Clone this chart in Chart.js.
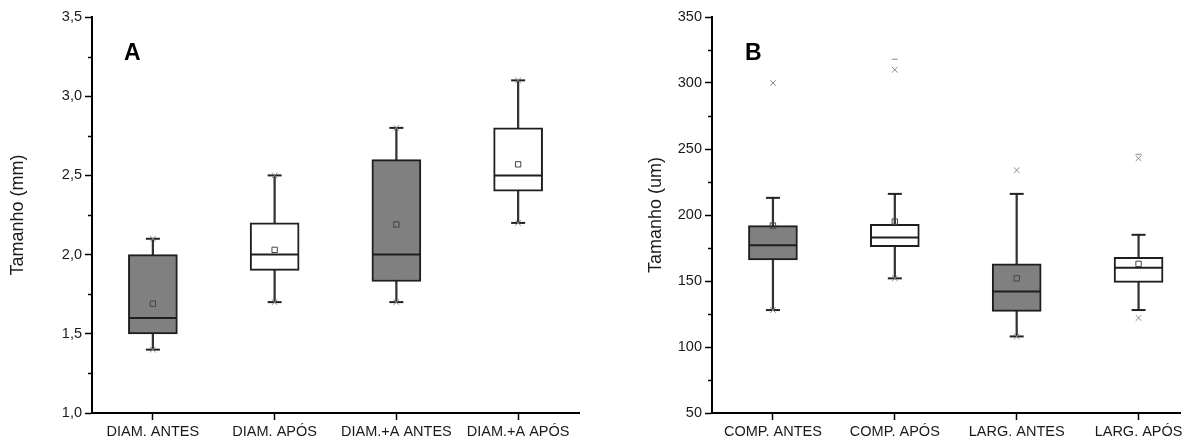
<!DOCTYPE html>
<html>
<head>
<meta charset="utf-8">
<script src="https://cdn.jsdelivr.net/npm/chart.js@4.4.1/dist/chart.umd.min.js"></script>
<style>
  html, body { margin: 0; padding: 0; background: #fff; }
  #wrap { position: relative; width: 1189px; height: 441px; overflow: hidden; }
  #pa { position: absolute; left: 0; top: 0; }
  #pb { position: absolute; left: 595px; top: 0; }
  .lbl { position: absolute; font-family: "Liberation Sans", Arial, sans-serif; font-weight: bold; font-size: 23px; line-height: 23px; color: #000; }
</style>
</head>
<body>
<div id="wrap">
  <canvas id="pa" width="595" height="441"></canvas>
  <canvas id="pb" width="594" height="441"></canvas>
  <div class="lbl" style="left:124px;top:41px;">A</div>
  <div class="lbl" style="left:745px;top:41px;">B</div>
</div>
<script>
// ---------- Panel A data ----------
const A_categories = ['DIAM. ANTES', 'DIAM. APÓS', 'DIAM.+A ANTES', 'DIAM.+A APÓS'];
const A_whiskerLow = [1.4, 1.7, 1.7, 2.2];
const A_q1 = [1.5, 1.9, 1.83, 2.4];
const A_median = [1.6, 2.0, 2.0, 2.5];
const A_q3 = [2.0, 2.2, 2.6, 2.8];
const A_whiskerHigh = [2.1, 2.5, 2.8, 3.1];
const A_mean = [1.69, 2.03, 2.19, 2.57];
const A_crossMarks = [[0, 1.4], [0, 2.1], [1, 1.7], [1, 2.5], [2, 1.7], [2, 2.8], [3, 2.2], [3, 3.1]];
const A_dashMarks = [];
const A_yTicks = [1.0, 1.5, 2.0, 2.5, 3.0, 3.5];
const A_yMinorTicks = [1.25, 1.75, 2.25, 2.75, 3.25];
const A_fill = ['#808080', '#ffffff', '#808080', '#ffffff'];

// ---------- Panel B data ----------
const B_categories = ['COMP. ANTES', 'COMP. APÓS', 'LARG. ANTES', 'LARG. APÓS'];
const B_whiskerLow = [128, 152, 108, 128];
const B_q1 = [166, 176, 127, 149];
const B_median = [177, 183, 142, 160];
const B_q3 = [192, 193, 163, 168];
const B_whiskerHigh = [213, 216, 216, 185];
const B_mean = [192, 195, 152, 163];
const B_crossMarks = [[0, 128], [0, 300], [1, 152], [1, 310], [2, 108], [2, 234], [3, 122], [3, 243]];
const B_dashMarks = [[1, 318], [3, 246]];
const B_yTicks = [50, 100, 150, 200, 250, 300, 350];
const B_yMinorTicks = [75, 125, 175, 225, 275, 325];
const B_fill = ['#808080', '#ffffff', '#808080', '#ffffff'];

const FONT = '"Liberation Sans", Arial, sans-serif';
const INK = '#1a1a1a';

const minorTickPlugin = {
  id: 'minorTicks',
  afterDraw(chart, args, opts) {
    const ys = chart.scales.y;
    const ctx = chart.ctx;
    ctx.save();
    ctx.strokeStyle = '#000';
    ctx.lineWidth = 1.5;
    ctx.beginPath();
    for (const v of opts.values) {
      const py = Math.round(ys.getPixelForValue(v)) + 0.5;
      ctx.moveTo(ys.right - 4, py);
      ctx.lineTo(ys.right, py);
    }
    ctx.stroke();
    ctx.restore();
  }
};

function makeChart(id, cfg) {
  const idx = cfg.categories.map((_, i) => i);
  const toPts = (arr) => arr.map((v, i) => ({ x: i, y: v }));
  const pairs = (arr) => arr.map(p => ({ x: p[0], y: p[1] }));
  const datasets = [
    { // crosses (min/max, outliers)
      type: 'line', order: 1, showLine: false,
      data: pairs(cfg.cross), pointStyle: 'crossRot', pointRadius: 4,
      borderColor: '#8a8a8a', borderWidth: 1, backgroundColor: '#8a8a8a'
    },
    { // dash marks
      type: 'line', order: 1, showLine: false,
      data: pairs(cfg.dash), pointStyle: 'line', pointRadius: 3,
      borderColor: '#8a8a8a', borderWidth: 1
    },
    { // mean
      type: 'line', order: 2, showLine: false,
      data: toPts(cfg.mean), pointStyle: 'rect', pointRadius: 3.8,
      borderColor: '#444', borderWidth: 1, backgroundColor: 'rgba(0,0,0,0)'
    },
    { // median
      type: 'line', order: 3, showLine: false,
      data: toPts(cfg.median), pointStyle: 'line', pointRadius: 24,
      borderColor: '#1e1e1e', borderWidth: 2
    },
    { // whisker caps
      type: 'line', order: 3, showLine: false,
      data: toPts(cfg.low).concat(toPts(cfg.high)), pointStyle: 'line', pointRadius: 7,
      borderColor: '#222', borderWidth: 2
    },
    { // box
      type: 'bar', order: 4, grouped: false,
      data: idx.map(i => ({ x: i, y: [cfg.q1[i], cfg.q3[i]] })),
      barThickness: 49, backgroundColor: cfg.fill, borderColor: '#1e1e1e',
      borderWidth: 2, borderSkipped: false
    },
    { // whisker stems
      type: 'bar', order: 5, grouped: false,
      data: idx.map(i => ({ x: i, y: [cfg.low[i], cfg.high[i]] })),
      barThickness: 1.6, backgroundColor: '#333', borderWidth: 0
    }
  ];
  return new Chart(document.getElementById(id), {
    type: 'bar',
    data: { datasets },
    plugins: [minorTickPlugin],
    options: {
      responsive: false,
      animation: false,
      events: [],
      layout: { autoPadding: false, padding: { top: 17, right: cfg.padRight, bottom: 0, left: 0 } },
      plugins: {
        legend: { display: false }, tooltip: { enabled: false },
        minorTicks: { values: cfg.minor }
      },
      scales: {
        x: {
          type: 'linear', offset: false,
          min: -0.5, max: cfg.xMax,
          afterBuildTicks: (s) => { s.ticks = idx.map(i => ({ value: i })); },
          afterFit: (s) => { s.height = 28; s.paddingLeft = 0; s.paddingRight = 0; },
          border: { display: true, color: '#000', width: 2 },
          grid: { display: true, drawOnChartArea: false, drawTicks: true, offset: false,
                  tickLength: 7, tickWidth: 1.5, tickColor: '#000' },
          ticks: { autoSkip: false, maxRotation: 0, padding: 3, color: INK,
                   font: { family: FONT, size: 14.5 },
                   callback: (v) => cfg.categories[v] }
        },
        y: {
          type: 'linear', min: cfg.yTicks[0], max: cfg.yTicks[cfg.yTicks.length - 1],
          afterBuildTicks: (s) => { s.ticks = cfg.yTicks.map(v => ({ value: v })); },
          afterFit: (s) => { s.width = cfg.yWidth; s.paddingTop = 0; s.paddingBottom = 0; },
          border: { display: true, color: '#000', width: 2 },
          grid: { display: true, drawOnChartArea: false, drawTicks: true,
                  tickLength: 7, tickWidth: 1.5, tickColor: '#000' },
          ticks: { padding: 3, color: INK, font: { family: FONT, size: 14.5 },
                   callback: cfg.fmt },
          title: { display: true, text: cfg.title, color: INK,
                   font: { family: FONT, size: 18 }, padding: { top: cfg.titlePad, bottom: 0 } }
        }
      }
    }
  });
}

makeChart('pa', {
  categories: A_categories, low: A_whiskerLow, q1: A_q1, median: A_median, q3: A_q3,
  high: A_whiskerHigh, mean: A_mean, cross: A_crossMarks, dash: A_dashMarks,
  yTicks: A_yTicks, minor: A_yMinorTicks, fill: A_fill,
  fmt: (v) => v.toFixed(1).replace('.', ','),
  title: 'Tamanho (mm)', titlePad: 7, yWidth: 92, padRight: 16, xMax: 3.5
});

makeChart('pb', {
  categories: B_categories, low: B_whiskerLow, q1: B_q1, median: B_median, q3: B_q3,
  high: B_whiskerHigh, mean: B_mean, cross: B_crossMarks, dash: B_dashMarks,
  yTicks: B_yTicks, minor: B_yMinorTicks, fill: B_fill,
  fmt: (v) => String(v),
  title: 'Tamanho (um)', titlePad: 50, yWidth: 117, padRight: 9, xMax: 3.34
});
</script>
</body>
</html>
